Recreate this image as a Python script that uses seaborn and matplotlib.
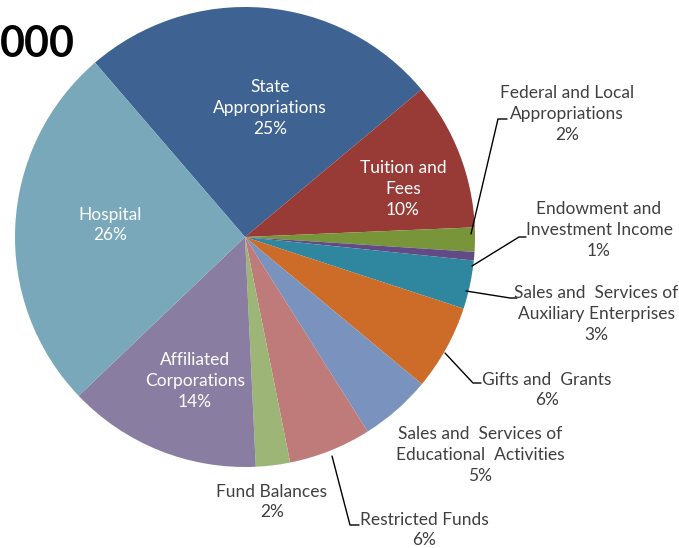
import matplotlib
matplotlib.use("Agg")
import matplotlib.pyplot as plt
import seaborn as sns

# data
categories = ["State\nAppropriations", "Tuition and\nFees", "Federal and Local\nAppropriations",
              "Endowment and\nInvestment Income", "Sales and  Services of\nAuxiliary Enterprises",
              "Gifts and  Grants", "Sales and  Services of\nEducational  Activities",
              "Restricted Funds", "Fund Balances", "Affiliated\nCorporations", "Hospital"]
shares = [25.2, 10.4, 1.7, 0.6, 3.4, 6.0, 5.0, 5.8, 2.4, 13.6, 25.8]
pct_labels = ["25%", "10%", "2%", "1%", "3%", "6%", "5%", "6%", "2%", "14%", "26%"]

colors = ["#3e6392", "#983b37", "#789639", "#624b85", "#2f879f", "#cc6c28",
          "#7a93be", "#bf7b79", "#9db577", "#897ea2", "#78a8ba"]

W, H = 679, 548


def px(x, y):
    # pixel position (top-left origin) -> axes data coords
    return x, H - y


# label layout: (x, y) centre in pixels, inside?, leader line points in pixels
layout = [
    ((270, 108), True, None),
    ((403, 189), True, None),
    ((567, 114), False, [(471, 234), (498, 119), (507, 119)]),
    ((599, 230), False, [(472, 266), (519, 237), (526, 237)]),
    ((596, 314), False, [(466, 291), (510, 298), (517, 298)]),
    ((547, 390), False, [(445, 353), (473, 383), (481, 383)]),
    ((480, 455), False, None),
    ((424, 530), False, [(332, 456), (350, 525), (359, 525)]),
    ((272, 502), False, None),
    ((195, 381), True, None),
    ((110, 225), True, None),
]

sns.set_theme(style="white")
plt.rcParams["font.family"] = ["Lato", "DejaVu Sans"]

fig = plt.figure(figsize=(W / 100, H / 100), dpi=100)
ax = fig.add_axes([0, 0, 1, 1])

ax.pie(shares, colors=colors, startangle=130.7, counterclock=False,
       center=px(245, 237), radius=230, frame=True,
       wedgeprops=dict(linewidth=0))
ax.set_xlim(0, W)
ax.set_ylim(0, H)
ax.set_aspect("equal")
ax.axis("off")

for cat, pct, (pos, inside, leader) in zip(categories, pct_labels, layout):
    x, y = px(*pos)
    ax.text(x, y, f"{cat}\n{pct}", ha="center", va="center",
            fontsize=12.5, linespacing=1.35,
            color="white" if inside else "#404040")
    if leader:
        xs = [p[0] for p in leader]
        ys = [H - p[1] for p in leader]
        ax.plot(xs, ys, color="black", lw=1)

fig.text(0.0, 1 - 57 / H, "000", ha="left", va="baseline",
         fontsize=31, fontweight="bold", color="black")

fig.savefig("out.png", dpi=100)
